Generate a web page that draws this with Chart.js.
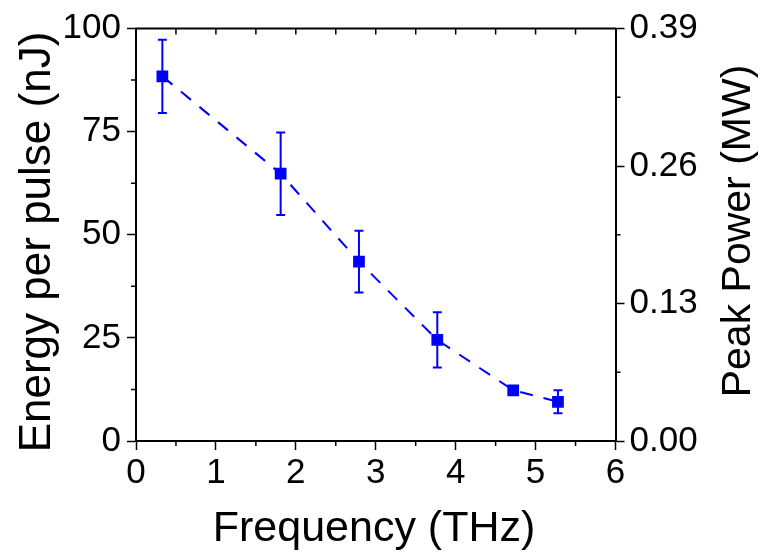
<!DOCTYPE html>
<html>
<head>
<meta charset="utf-8">
<script src="https://cdn.jsdelivr.net/npm/chart.js@4/dist/chart.umd.min.js"></script>
<style>
  html, body { margin: 0; padding: 0; background: #fff; }
  #wrap { width: 764px; height: 553px; }
</style>
</head>
<body>
<div id="wrap"><canvas id="c" width="764" height="553"></canvas></div>
<script>
// ---- data ----
const frequencyTHz = [0.33, 1.81, 2.79, 3.77, 4.72, 5.28];
const energyNJ     = [88.4, 64.8, 43.5, 24.5, 12.3, 9.5];
const energyErr    = [8.9, 10.0, 7.5, 6.7, 1.0, 2.8];
const xTicks       = [0, 1, 2, 3, 4, 5, 6];
const yTicks       = [0, 25, 50, 75, 100];
const y2Ticks      = [0.00, 0.13, 0.26, 0.39];
const xTitle  = 'Frequency (THz)';
const yTitle  = 'Energy per pulse (nJ)';
const y2Title = 'Peak Power (MW)';

const BLUE = 'rgb(0,0,255)';
const FONT = "'Liberation Sans', Arial, sans-serif";
const TICK_FONT = 35;

const points = frequencyTHz.map((x, i) => ({ x: x, y: energyNJ[i] }));

const framePlugin = {
  id: 'frame',
  afterDatasetsDraw(chart) {
    const ctx = chart.ctx;
    const a = chart.chartArea;
    const xs = chart.scales.x, ys = chart.scales.y, y2 = chart.scales.y2;
    ctx.save();
    // error bars
    ctx.strokeStyle = BLUE;
    ctx.lineWidth = 2;
    frequencyTHz.forEach((f, i) => {
      const px = xs.getPixelForValue(f);
      const top = ys.getPixelForValue(energyNJ[i] + energyErr[i]);
      const bot = ys.getPixelForValue(energyNJ[i] - energyErr[i]);
      ctx.beginPath();
      ctx.moveTo(px, top); ctx.lineTo(px, bot);
      ctx.moveTo(px - 4.5, top); ctx.lineTo(px + 4.5, top);
      ctx.moveTo(px - 4.5, bot); ctx.lineTo(px + 4.5, bot);
      ctx.stroke();
    });
    // frame top line
    ctx.strokeStyle = '#000';
    ctx.lineWidth = 2;
    ctx.beginPath();
    ctx.moveTo(a.left - 1, a.top); ctx.lineTo(a.right + 1, a.top);
    ctx.stroke();
    // top ticks (inward)
    ctx.lineWidth = 1.5;
    ctx.beginPath();
    for (let v = 0.5; v < 6; v += 0.5) {
      const px = xs.getPixelForValue(v);
      ctx.moveTo(px, a.top); ctx.lineTo(px, a.top + 6);
    }
    // bottom minor ticks (outward)
    for (let v = 0.5; v < 6; v += 1) {
      const px = xs.getPixelForValue(v);
      ctx.moveTo(px, a.bottom); ctx.lineTo(px, a.bottom + 5);
    }
    // left minor ticks
    for (let v = 12.5; v < 100; v += 25) {
      const py = ys.getPixelForValue(v);
      ctx.moveTo(a.left, py); ctx.lineTo(a.left - 5, py);
    }
    // right minor ticks
    for (let v = 0.065; v < 0.39; v += 0.13) {
      const py = y2.getPixelForValue(v);
      ctx.moveTo(a.right, py); ctx.lineTo(a.right + 5, py);
    }
    ctx.stroke();

    // axis titles
    ctx.fillStyle = '#000';
    ctx.textAlign = 'center';
    ctx.textBaseline = 'alphabetic';
    // bottom
    ctx.font = '43px ' + FONT;
    ctx.fillText(xTitle, 374, 541);
    // left (reads bottom-to-top)
    ctx.save();
    ctx.font = '44px ' + FONT;
    ctx.translate(50, 242);
    ctx.rotate(-Math.PI / 2);
    ctx.fillText(yTitle, 0, 0);
    ctx.restore();
    // right (reads bottom-to-top)
    ctx.save();
    ctx.font = '41px ' + FONT;
    ctx.translate(750, 231);
    ctx.rotate(-Math.PI / 2);
    ctx.fillText(y2Title, 0, 0);
    ctx.restore();
    ctx.restore();
  }
};

new Chart(document.getElementById('c'), {
  type: 'scatter',
  data: {
    datasets: [{
      data: points,
      showLine: true,
      borderColor: BLUE,
      backgroundColor: BLUE,
      borderWidth: 2,
      borderDash: [13, 11],
      pointStyle: 'rect',
      pointRadius: 8.3,
      pointHoverRadius: 8.3,
      pointBorderWidth: 0,
      tension: 0
    }]
  },
  options: {
    responsive: false,
    animation: false,
    events: [],
    layout: { padding: { top: 28.5, left: 0, right: 0, bottom: 0 } },
    plugins: { legend: { display: false }, tooltip: { enabled: false } },
    scales: {
      x: {
        type: 'linear',
        min: 0, max: 6,
        afterBuildTicks(s) { s.ticks = xTicks.map(v => ({ value: v })); },
        afterFit(s) { s.height = 112; },
        border: { display: true, color: '#000', width: 2 },
        grid: { drawOnChartArea: false, drawTicks: true, tickLength: 9, tickColor: '#000', tickWidth: 1.5 },
        ticks: { color: '#000', font: { family: FONT, size: TICK_FONT }, padding: 2, maxRotation: 0 },
        title: { display: false }
      },
      y: {
        type: 'linear',
        position: 'left',
        min: 0, max: 100,
        afterBuildTicks(s) { s.ticks = yTicks.map(v => ({ value: v })); },
        afterFit(s) { s.width = 136; },
        border: { display: true, color: '#000', width: 2 },
        grid: { drawOnChartArea: false, drawTicks: true, tickLength: 9, tickColor: '#000', tickWidth: 1.5 },
        ticks: { color: '#000', font: { family: FONT, size: TICK_FONT }, padding: 6 },
        title: { display: false }
      },
      y2: {
        type: 'linear',
        position: 'right',
        min: 0, max: 0.39,
        afterBuildTicks(s) { s.ticks = y2Ticks.map(v => ({ value: v })); },
        afterFit(s) { s.width = 148.5; },
        border: { display: true, color: '#000', width: 2 },
        grid: { drawOnChartArea: false, drawTicks: true, tickLength: 9, tickColor: '#000', tickWidth: 1.5 },
        ticks: { color: '#000', font: { family: FONT, size: TICK_FONT }, padding: 5,
                 callback: v => Number(v).toFixed(2) }
      }
    }
  },
  plugins: [framePlugin]
});
</script>
</body>
</html>
